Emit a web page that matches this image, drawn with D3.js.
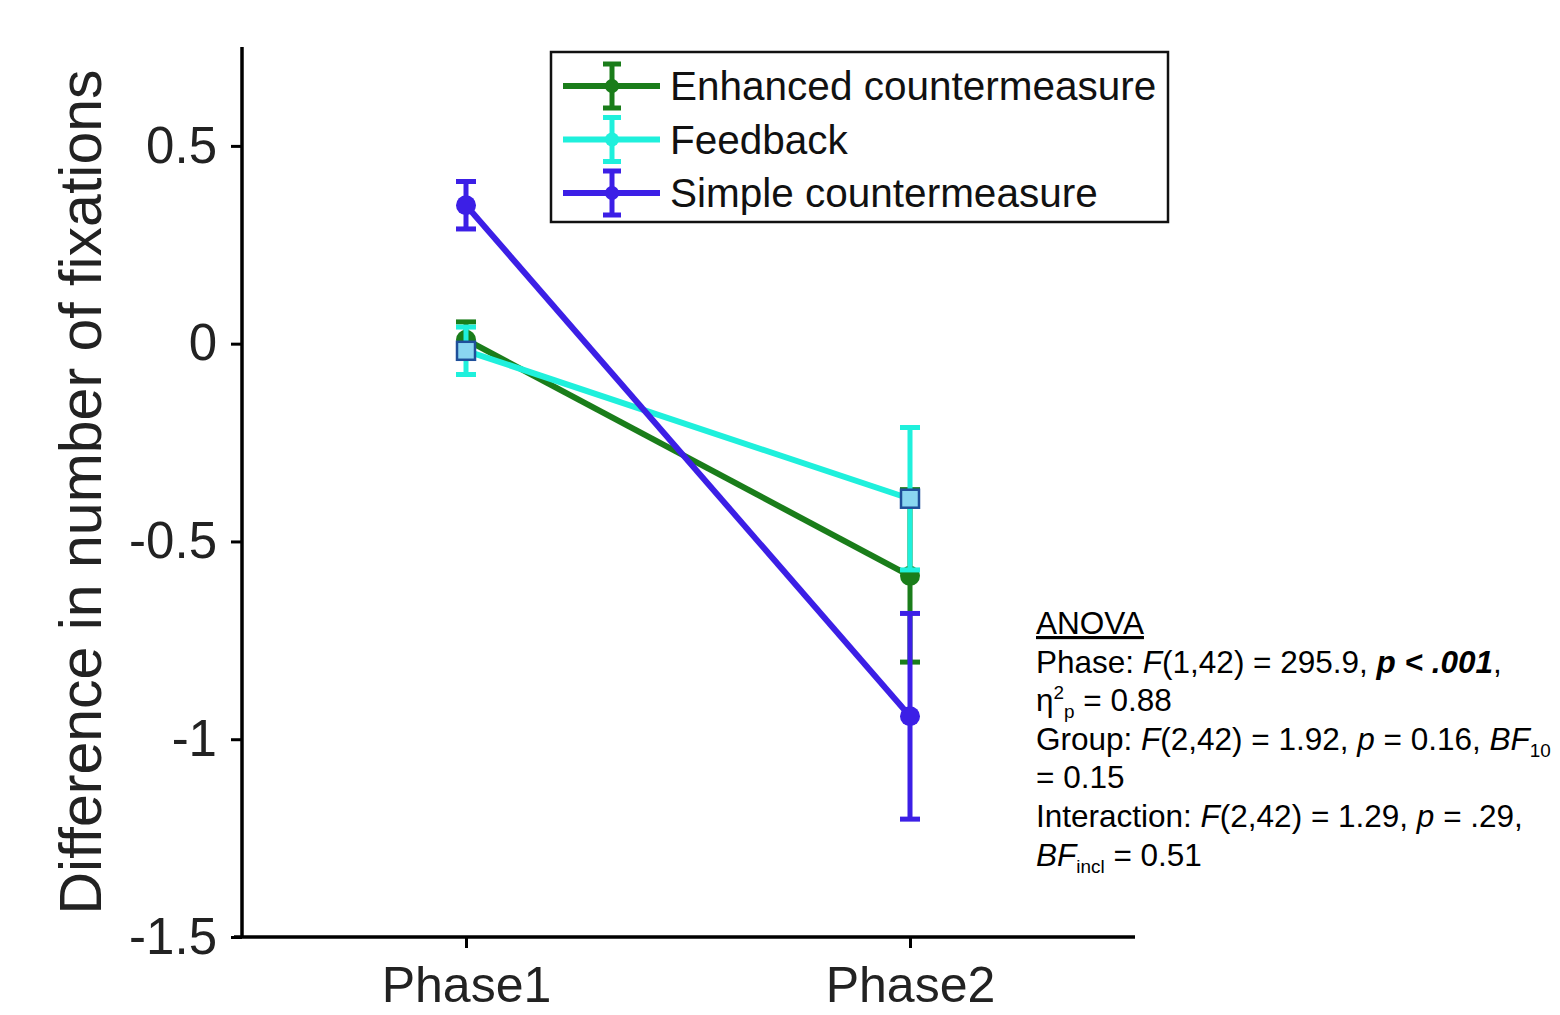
<!DOCTYPE html>
<html><head><meta charset="utf-8">
<script src="https://cdn.jsdelivr.net/npm/d3@7"></script>
<style>body{margin:0;background:#fff}svg{display:block}text{font-family:"Liberation Sans",Arial,sans-serif}</style>
</head><body>
<svg id="c" width="1560" height="1015"></svg>
<script>
const phases = ["Phase1","Phase2"];
const groups = ["Enhanced countermeasure","Feedback","Simple countermeasure"];
const enhancedMean = [0.01, -0.587];
const enhancedErr  = [0.045, 0.218];
const feedbackMean = [-0.018, -0.392];
const feedbackErr  = [0.06, 0.18];
const simpleMean   = [0.35, -0.942];
const simpleErr    = [0.06, 0.26];
const yTicks = [0.5, 0, -0.5, -1, -1.5];
const yTickLabels = ["0.5","0","-0.5","-1","-1.5"];

const series = [
  {name: groups[0], mean: enhancedMean, err: enhancedErr, color: "#1a7d1a", marker: "circle"},
  {name: groups[1], mean: feedbackMean, err: feedbackErr, color: "#1ff0dc", marker: "square"},
  {name: groups[2], mean: simpleMean, err: simpleErr, color: "#3c1fe6", marker: "circle"}
];

const svg = d3.select("#c");
const x = d3.scaleLinear().domain([0.5, 2.5]).range([244, 1132]);
const y = d3.scaleLinear().domain([-1.5, 0.75]).range([937, 47]);

// axes
const yAxis = d3.axisLeft(y).tickValues(yTicks).tickFormat((d,i)=>yTickLabels[i]).tickSize(11).tickPadding(14);
const gy = svg.append("g").attr("transform","translate(242,0)").call(yAxis);
gy.select(".domain").attr("stroke","#000").attr("stroke-width",3.5).attr("d", `M0,${y(0.75)}V${y(-1.5)}`);
gy.selectAll(".tick line").attr("stroke","#000").attr("stroke-width",3);
gy.selectAll(".tick text").attr("font-size",51).attr("fill","#222").attr("font-family","Liberation Sans, Arial, sans-serif");

const xAxis = d3.axisBottom(x).tickValues([1,2]).tickFormat((d,i)=>phases[i]).tickSize(11).tickPadding(18);
const gx = svg.append("g").attr("transform","translate(0,937)").call(xAxis);
gx.select(".domain").attr("stroke","#000").attr("stroke-width",3.5).attr("d", `M234,0H1135`);
gx.selectAll(".tick line").attr("stroke","#000").attr("stroke-width",3);
gx.selectAll(".tick text").attr("font-size",50).attr("fill","#222").attr("font-family","Liberation Sans, Arial, sans-serif");

svg.append("text").attr("transform","rotate(-90)").attr("x",-492).attr("y",101)
  .attr("text-anchor","middle").attr("font-size",59).attr("fill","#222")
  .text("Difference in number of fixations");

// data
const line = d3.line().x((d,i)=>x(i+1)).y(d=>y(d));
series.forEach(s=>{
  const g = svg.append("g");
  g.append("path").attr("d", line(s.mean)).attr("fill","none").attr("stroke",s.color).attr("stroke-width",6);
  s.mean.forEach((m,i)=>{
    const cx = x(i+1), top = y(m + s.err[i]), bot = y(m - s.err[i]);
    g.append("line").attr("x1",cx).attr("x2",cx).attr("y1",top).attr("y2",bot).attr("stroke",s.color).attr("stroke-width",5);
    [top,bot].forEach(yy=>g.append("line").attr("x1",cx-10).attr("x2",cx+10).attr("y1",yy).attr("y2",yy).attr("stroke",s.color).attr("stroke-width",5));
    if (s.marker === "circle") {
      g.append("circle").attr("cx",cx).attr("cy",y(m)).attr("r",10).attr("fill",s.color);
    } else {
      g.append("rect").attr("x",cx-9).attr("y",y(m)-9).attr("width",18).attr("height",18)
        .attr("fill","#8ad6f0").attr("stroke","#1f4f9a").attr("stroke-width",2.5);
    }
  });
});

// legend
const lg = svg.append("g");
lg.append("rect").attr("x",551).attr("y",52).attr("width",617).attr("height",170).attr("fill","#fff").attr("stroke","#111").attr("stroke-width",2.5);
series.forEach((s,i)=>{
  const yy = 86 + i*53.5;
  lg.append("line").attr("x1",563).attr("x2",660).attr("y1",yy).attr("y2",yy).attr("stroke",s.color).attr("stroke-width",6);
  lg.append("line").attr("x1",612).attr("x2",612).attr("y1",yy-22).attr("y2",yy+22).attr("stroke",s.color).attr("stroke-width",5);
  [yy-22,yy+22].forEach(v=>lg.append("line").attr("x1",603).attr("x2",621).attr("y1",v).attr("y2",v).attr("stroke",s.color).attr("stroke-width",5));
  lg.append("circle").attr("cx",612).attr("cy",yy).attr("r",7).attr("fill",s.color);
  lg.append("text").attr("x",670).attr("y",yy+14).attr("font-size",40.5).attr("fill","#111").text(s.name);
});

// ANOVA annotation
const fs = 31.5, lh = 38.6, ax = 1036, ay0 = 634;
const t = svg.append("g").attr("font-size",fs).attr("fill","#000");
function lineOf(i, parts){
  const tx = t.append("text").attr("x",ax).attr("y",ay0 + i*lh);
  parts.forEach(p=>{
    const ts = tx.append("tspan").text(p.t);
    if (p.i) ts.attr("font-style","italic");
    if (p.b) ts.attr("font-weight","bold");
    if (p.sup) ts.attr("font-size",fs*0.6).attr("dy",-12);
    if (p.sub) ts.attr("font-size",fs*0.6).attr("dy",p.dy||7);
    if (p.back) ts.attr("dy",p.back);
    if (p.u) ts.attr("text-decoration","underline");
    if (p.dx) ts.attr("dx",p.dx);
  });
  return tx;
}
lineOf(0,[{t:"ANOVA",u:true}]);
lineOf(1,[{t:"Phase: "},{t:"F",i:true},{t:"(1,42) = 295.9, "},{t:"p < .001",i:true,b:true},{t:","}]);
lineOf(2,[{t:"η"},{t:"2",sup:true},{t:"p",sub:true,dy:19},{t:" = 0.88",back:-7}]);
lineOf(3,[{t:"Group: "},{t:"F",i:true},{t:"(2,42) = 1.92, "},{t:"p",i:true},{t:" = 0.16, "},{t:"BF",i:true},{t:"10",sub:true}]);
lineOf(4,[{t:"= 0.15"}]);
lineOf(5,[{t:"Interaction: "},{t:"F",i:true},{t:"(2,42) = 1.29, "},{t:"p",i:true},{t:" = .29,"}]);
lineOf(6,[{t:"BF",i:true},{t:"incl",sub:true},{t:" = 0.51",back:-7}]);
</script>
</body></html>
